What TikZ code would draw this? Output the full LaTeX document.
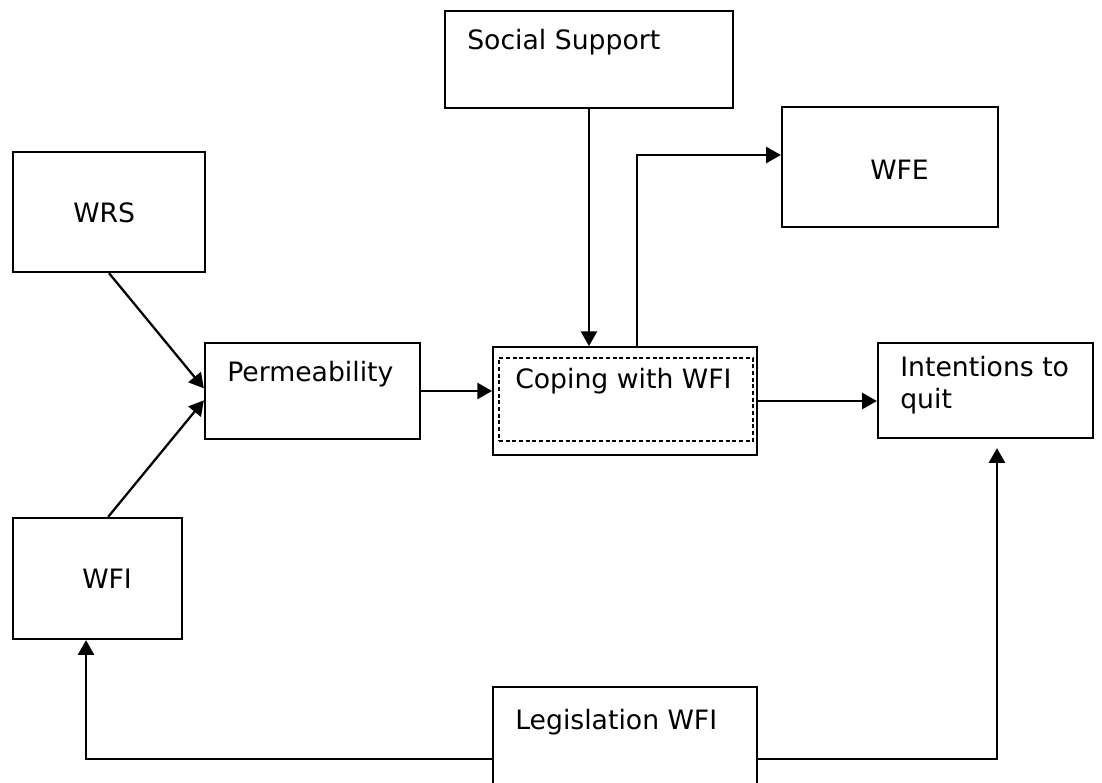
\documentclass[tikz,border=0pt]{standalone}
\usepackage{fontspec}
\setmainfont{DejaVu Sans}
\usetikzlibrary{arrows.meta}

\tikzset{
  box/.style={draw, line width=1.7pt, inner sep=0pt},
  dashbox/.style={draw, line width=1.7pt, dash pattern={on 3pt off 2pt}, inner sep=0pt},
  lbl/.style={inner sep=0pt, anchor=base west, font=\fontsize{20}{24}\selectfont},
  arr/.style={line width=1.7pt, -{Triangle[length=11pt,width=12pt]}},
}

\begin{document}
\begin{tikzpicture}[x=0.75pt,y=0.75pt,yscale=-1,xscale=1]
\useasboundingbox (0,0) rectangle (1102,782);

% Boxes
\node [box, minimum width=216pt, minimum height=72.75pt] (ss) at (589,59.5) {};
\node [box, minimum width=162pt, minimum height=90pt] (wfe) at (890,167) {};
\node [box, minimum width=144pt, minimum height=90pt] (wrs) at (109,212) {};
\node [box, minimum width=161.25pt, minimum height=72pt] (perm) at (312.5,391) {};
\node [box, line width=1.4pt, minimum width=198pt, minimum height=81pt] (cope) at (625,401) {};
\node [dashbox, minimum width=190.5pt, minimum height=62.25pt] (copeIn) at (626,399.5) {};
\node [box, minimum width=161.25pt, minimum height=71.25pt] (intent) at (985.5,390.5) {};
\node [box, minimum width=126.75pt, minimum height=90.75pt] (wfi) at (97.5,578.5) {};
\node [box, minimum width=198pt, minimum height=84.75pt] (leg) at (625,743.5) {};

% Text Node
\node [lbl] (ssT) at (467,49) {Social Support};
\node [lbl] (wfeT) at (870,179) {WFE};
\node [lbl] (wrsT) at (73,222) {WRS};
\node [lbl] (permT) at (227,381) {Permeability};
\node [lbl] (copeT) at (515,388) {Coping with WFI};
\node [lbl, anchor=north west, align=left] (intentT) at (900,356) {Intentions to\\quit};
\node [lbl] (wfiT) at (82,588) {WFI};
\node [lbl] (legT) at (515,729) {Legislation WFI};

% Connectors (yshift is flipped by yscale=-1)
\draw [arr] (wrs.south) -- ([yshift=-2pt]perm.west);
\draw [arr] ([xshift=8pt]wfi.north) -- ([yshift=7pt]perm.west);
\draw [arr] (perm.east) -- (perm.east -| cope.west);
\draw [arr] (ss.south) -- (ss.south |- cope.north);
\draw [arr] ([xshift=9pt]cope.north) |- ([yshift=-9pt]wfe.west);
\draw [arr] (cope.east) -- (cope.east -| intent.west);
\draw [arr] ([yshift=11.6pt]leg.west) -| ([xshift=-8.6pt]wfi.south);
\draw [arr, shorten >=6.75pt] ([yshift=11.6pt]leg.east) -| ([xshift=8.6pt]intent.south);

\end{tikzpicture}
\end{document}
